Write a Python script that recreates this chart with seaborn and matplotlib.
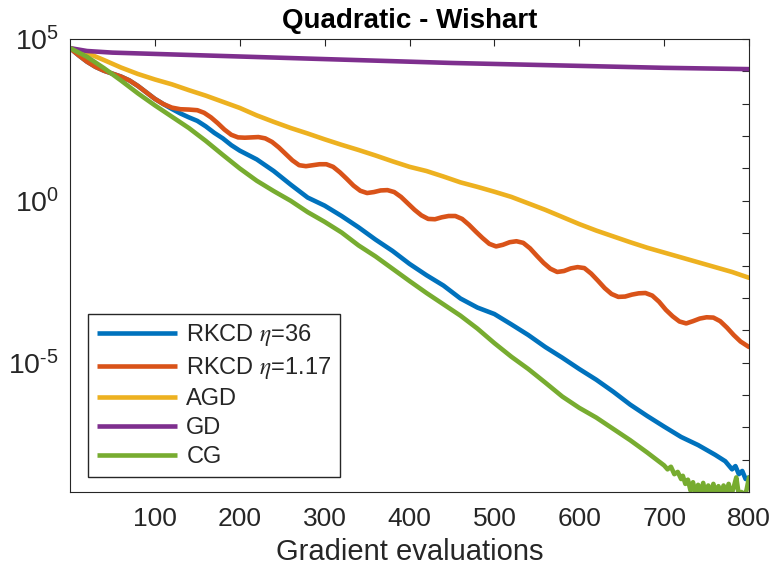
import numpy as np
import pandas as pd
import matplotlib
matplotlib.use("Agg")
import matplotlib.pyplot as plt
import seaborn as sns

# ---- data (values read as log10 of the objective) ----
series_names = ["RKCD $\\eta$=36", "RKCD $\\eta$=1.17", "AGD", "GD", "CG"]
colors = ["#0072BD", "#D95319", "#EDB120", "#7E2F8E", "#77AC30"]

rkcd36_x = [0, 10, 20, 30, 40, 50, 60, 70, 80, 90, 100, 110, 120, 130, 140, 150, 160, 170, 180,
            190, 200, 220, 240, 260, 280, 300, 320, 340, 360, 380, 400, 420, 440, 460, 480,
            500, 520, 540, 560, 580, 600, 620, 640, 660, 680, 700, 720, 740, 760, 772, 780,
            784, 788, 792, 796, 800]
rkcd36_log = [4.72, 4.5, 4.3, 4.14, 4.02, 3.93, 3.84, 3.72, 3.55, 3.35, 3.15, 2.99, 2.84, 2.7,
              2.58, 2.47, 2.3, 2.1, 1.93, 1.72, 1.55, 1.28, 0.92, 0.5, 0.1, -0.15, -0.47,
              -0.82, -1.2, -1.55, -1.95, -2.3, -2.62, -3.02, -3.3, -3.5, -3.82, -4.15, -4.52,
              -4.85, -5.2, -5.53, -5.9, -6.3, -6.65, -6.98, -7.3, -7.55, -7.85, -8.05, -8.3,
              -8.2, -8.45, -8.35, -8.6, -8.55]

rkcd117_x = [0, 10, 20, 30, 40, 50, 60, 70, 80, 90, 100, 110, 120, 130, 140, 150, 158, 166,
             174, 182, 190, 198, 206, 214, 222, 230, 238, 246, 254, 262, 270, 278, 286, 294,
             302, 310, 318, 326, 334, 342, 350, 358, 366, 374, 382, 390, 398, 406, 414, 422,
             430, 438, 446, 454, 462, 470, 478, 486, 494, 502, 510, 518, 526, 534, 542, 550,
             558, 566, 574, 582, 590, 598, 606, 614, 622, 630, 638, 646, 654, 662, 670, 678,
             686, 694, 702, 710, 718, 726, 734, 742, 750, 758, 766, 774, 782, 790, 800]
rkcd117_log = [4.72, 4.5, 4.3, 4.14, 4.02, 3.93, 3.84, 3.72, 3.55, 3.35, 3.15, 2.99, 2.88,
               2.83, 2.82, 2.8, 2.72, 2.58, 2.4, 2.2, 2.04, 1.96, 1.95, 1.96, 1.97, 1.93, 1.82,
               1.65, 1.45, 1.25, 1.1, 1.07, 1.1, 1.13, 1.13, 1.05, 0.88, 0.68, 0.47, 0.31,
               0.24, 0.27, 0.32, 0.33, 0.27, 0.12, -0.08, -0.28, -0.45, -0.56, -0.57, -0.51,
               -0.47, -0.47, -0.56, -0.74, -0.95, -1.15, -1.33, -1.41, -1.36, -1.28, -1.25,
               -1.3, -1.47, -1.7, -1.92, -2.1, -2.2, -2.17, -2.09, -2.05, -2.08, -2.25, -2.47,
               -2.7, -2.88, -2.97, -2.96, -2.9, -2.86, -2.85, -2.93, -3.12, -3.37, -3.57,
               -3.73, -3.79, -3.72, -3.64, -3.6, -3.61, -3.72, -3.92, -4.15, -4.35, -4.52]

agd_x = list(range(0, 801, 20))
agd_log = [4.72, 4.57, 4.35, 4.12, 3.92, 3.75, 3.6, 3.42, 3.25, 3.06, 2.87, 2.64, 2.44, 2.25,
           2.08, 1.9, 1.73, 1.57, 1.4, 1.22, 1.05, 0.92, 0.75, 0.57, 0.43, 0.28, 0.12, -0.08,
           -0.28, -0.5, -0.72, -0.92, -1.1, -1.28, -1.45, -1.6, -1.75, -1.9, -2.05, -2.2, -2.38]

gd_x = [0, 20, 50, 100, 150, 200, 250, 300, 350, 400, 450, 500, 550, 600, 650, 700, 750, 800]
gd_log = [4.72, 4.63, 4.58, 4.54, 4.5, 4.46, 4.42, 4.38, 4.34, 4.3, 4.26, 4.23, 4.2, 4.17,
          4.14, 4.11, 4.09, 4.07]

cg_x = [0, 20, 40, 60, 80, 100, 120, 140, 160, 180, 200, 220, 240, 260, 280, 300, 320, 340,
        360, 380, 400, 420, 440, 460, 480, 500, 520, 540, 560, 580, 600, 620, 640, 660, 680,
        700, 704, 708, 712, 716, 720, 722, 725, 728, 731, 734, 737, 740, 743, 746, 749, 752,
        755, 758, 761, 764, 767, 770, 773, 776, 779, 782, 785, 788, 791, 794, 797, 800]
cg_log = [4.72, 4.45, 4.1, 3.72, 3.32, 2.95, 2.6, 2.25, 1.85, 1.42, 1.0, 0.62, 0.3, 0.0,
          -0.35, -0.65, -0.98, -1.38, -1.72, -2.1, -2.48, -2.85, -3.2, -3.55, -3.95, -4.4,
          -4.82, -5.2, -5.62, -6.05, -6.4, -6.7, -7.05, -7.4, -7.78, -8.18, -8.3, -8.22,
          -8.45, -8.38, -8.6, -8.5, -8.75, -8.62, -8.95, -8.7, -9.1, -8.78, -9.05, -8.72,
          -9.1, -8.8, -9.1, -8.75, -9.05, -8.82, -9.1, -8.8, -9.05, -8.75, -9.1, -8.85,
          -8.55, -9.1, -9.0, -9.1, -8.95, -8.55]

x_ticks = [100, 200, 300, 400, 500, 600, 700, 800]
y_tick_exps = list(range(-9, 6))
y_label_exps = [-5, 0, 5]
title = "Quadratic - Wishart"
xlabel = "Gradient evaluations"

# ---- build table ----
frames = []
for name, xs, ls in zip(series_names,
                        [rkcd36_x, rkcd117_x, agd_x, gd_x, cg_x],
                        [rkcd36_log, rkcd117_log, agd_log, gd_log, cg_log]):
    frames.append(pd.DataFrame({"x": xs, "y": np.power(10.0, np.array(ls)), "method": name}))
df = pd.concat(frames, ignore_index=True)

sns.set_style("white")
plt.rcParams["font.family"] = ["Liberation Sans", "DejaVu Sans"]
plt.rcParams["mathtext.fontset"] = "stix"
plt.rcParams["axes.unicode_minus"] = False
plt.rcParams["lines.solid_joinstyle"] = "round"
plt.rcParams["lines.solid_capstyle"] = "round"

fig = plt.figure(figsize=(7.71, 5.74), dpi=100)
ax = fig.add_axes([0.0908, 0.1429, 0.9715 - 0.0908, 0.932 - 0.1429])

sns.lineplot(data=df, x="x", y="y", hue="method", hue_order=series_names,
             palette=colors, estimator=None, sort=False, linewidth=3.3, ax=ax)


def exp_label(e):
    if e < 0:
        return r"$\mathdefault{10^{\text{-}%d}}$" % (-e)
    return r"$\mathdefault{10^{%d}}$" % e


ax.set_yscale("log")
ax.set_xlim(0, 800)
ax.set_ylim(1e-9, 1e5)
ax.set_xticks(x_ticks)
ax.set_xticklabels([str(v) for v in x_ticks])
ax.set_yticks([10.0 ** e for e in y_tick_exps])
ax.set_yticklabels([exp_label(e) if e in y_label_exps else "" for e in y_tick_exps])
ax.yaxis.set_minor_locator(matplotlib.ticker.NullLocator())

ax.tick_params(axis="both", which="major", direction="in", length=5, width=0.8,
               top=True, right=True, colors="#262626")
ax.tick_params(axis="x", labelsize=19, pad=11)
ax.tick_params(axis="y", labelsize=20.5, pad=8)
for s in ax.spines.values():
    s.set_visible(True)
    s.set_color("#262626")
    s.set_linewidth(0.8)

ax.set_title(title, fontsize=20, fontweight="bold", pad=8, color="black")
ax.set_xlabel(xlabel, fontsize=21, color="#262626", labelpad=5)
ax.set_ylabel("")

leg = ax.legend(loc="lower left", bbox_to_anchor=(0.027, 0.034), fontsize=17,
                frameon=True, fancybox=False, edgecolor="#262626", framealpha=1,
                handlelength=3.4, handletextpad=0.4, labelspacing=0.3,
                borderpad=0.35, borderaxespad=0.0)
leg.get_frame().set_linewidth(1.0)
for line in leg.get_lines():
    line.set_linewidth(3.3)
    line.set_solid_capstyle("butt")

fig.savefig("out.png", dpi=100)
